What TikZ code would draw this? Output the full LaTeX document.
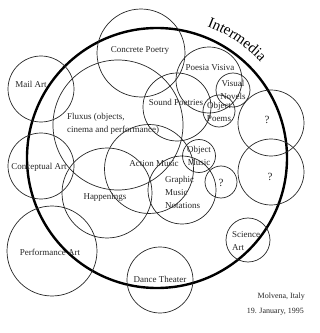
\documentclass[tikz,border=0pt]{standalone}
\usepackage{fontspec}
\setmainfont{Liberation Serif}
\usetikzlibrary{decorations.text}
\begin{document}
\begin{tikzpicture}[x=1pt,y=1pt,
  ring/.style={draw=black!85, line width=0.7pt, circle, inner sep=0pt, minimum size=#1},
  big/.style={draw=black, line width=2.4pt, circle, inner sep=0pt, minimum size=#1},
  lbl/.style={font=\fontsize{9}{13}\selectfont, inner sep=0pt, text=black!85},
  lbll/.style={lbl, align=left},
  lblc/.style={lbl, align=center},
  qm/.style={font=\fontsize{11}{13}\selectfont, inner sep=0pt, text=black!85}]
\useasboundingbox (0,0) rectangle (320,333);
% thick Intermedia circle
\node[big=260pt] (im) at (157,175) {};
% thin circles
\node[ring=88pt] (cp) at (141,280) {};
\node[ring=66pt] (ma) at (41,244) {};
\node[ring=130pt] (fx) at (118,208) {};
\node[ring=66pt] (pv) at (209,253) {};
\node[ring=68pt] (sp) at (177,226) {};
\node[ring=34pt] (vn) at (233,243) {};
\node[ring=32pt] (op) at (219,222) {};
\node[ring=66pt] (q1) at (271,210) {};
\node[ring=66pt] (q2) at (271,161) {};
\node[ring=33pt] (om) at (199,177) {};
\node[ring=32pt] (q3) at (221,151) {};
\node[ring=68pt] (gm) at (182,143) {};
\node[ring=89pt] (am) at (149,164) {};
\node[ring=66pt] (ca) at (41,167) {};
\node[ring=90pt] (hp) at (107,140) {};
\node[ring=90pt] (pa) at (52,82) {};
\node[ring=66pt] (dt) at (160,53) {};
\node[ring=44pt] (sa) at (248,93) {};
% labels
\node[lbl] (tcp) at (140,283) {Concrete Poetry};
\node[lbl] (tma) at (31,249) {Mail Art};
\node[lbll, anchor=west] (tfx) at (67,209) {Fluxus (objects,\\cinema and performance)};
\node[lbl] (tpv) at (210,265) {Poesia Visiva};
\node[lbl] (tsp) at (176,231) {Sound Poetries};
\node[lblc] (tvn) at (233,243) {Visual\\Novels};
\node[lblc] (top) at (219,221) {Object\\Poems};
\node[qm] (tq1) at (267,213) {?};
\node[qm] (tq2) at (270,156) {?};
\node[lblc] (tom) at (199,177) {Object\\Music};
\node[qm] (tq3) at (221,150) {?};
\node[lbll, anchor=west] (tgm) at (165,141) {Graphic\\Music\\Notations};
\node[lbl] (tam) at (154,169) {Action Music};
\node[lbl] (tca) at (39,166) {Conceptual Art};
\node[lbl] (thp) at (105,136) {Happenings};
\node[lbl] (tpa) at (50,81) {Performance Art};
\node[lbl] (tdt) at (160,54) {Dance Theater};
\node[lbll, anchor=west] (tsa) at (232,92) {Science\\Art};
\node[lbl, anchor=east, font=\fontsize{8}{10}\selectfont] (tml) at (305,36) {Molvena, Italy};
\node[lbl, anchor=east, font=\fontsize{8}{10}\selectfont] (tjn) at (304,21) {19. January, 1995};
% curved title
\path[decorate, decoration={text along path, text align=center,
  text={|\fontsize{15}{15}\selectfont|Intermedia}}]
  (im.center) ++(77:141) arc[start angle=77, end angle=35, radius=141];
\end{tikzpicture}
\end{document}
